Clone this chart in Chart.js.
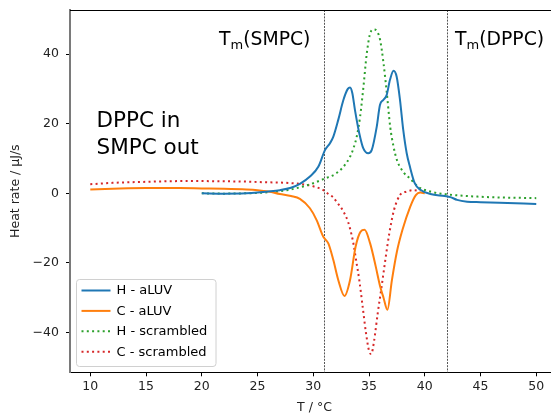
<!DOCTYPE html>
<html><head><meta charset="utf-8">
<style>
html,body{margin:0;padding:0;overflow:hidden;background:#fff;width:551px;height:413px}
#wrap{width:559px;height:413px}
</style>
<script src="https://cdn.jsdelivr.net/npm/chart.js@4.4.1/dist/chart.umd.min.js"></script>
</head><body><div id="wrap"><canvas id="c" width="559" height="413"></canvas></div>
<script>
// ---- data ----
const hAluvT = [20,22,24,25,26,27,28,28.8,29.7,30.45,31.05,31.5,31.8,32.24,32.7,33.1,33.3,33.5,33.74,34.13,34.49,34.93,35.24,35.69,35.98,36.28,36.58,36.88,37.2,37.48,37.78,38.07,38.38,38.67,39.1,39.6,40.5,41.8,42.3,42.9,43.8,45,46.7,50];
const hAluvY = [0,-0.1,0,0.2,0.5,0.9,1.6,2.7,4.8,7.6,12.4,14.4,16.3,21.1,26.8,30.0,30.4,28.8,23.9,17.2,12.9,11.5,12.4,19.1,25.4,26.8,28.2,32.6,35.2,33.5,26.8,18.2,11.5,7.6,2.9,1,-0.2,-0.8,-1.1,-1.9,-2.4,-2.55,-2.7,-3.1];

const cAluvT = [10,12,15,18,20,22,24,25,26,27,28,28.8,29.7,30.3,30.9,31.35,31.8,32.24,32.8,33.3,33.8,34.25,34.6,35.1,35.6,36.0,36.3,36.65,37.05,37.5,38,38.7,39.2,39.6,40];
const cAluvY = [1.1,1.3,1.5,1.5,1.4,1.3,1.1,0.9,0.5,-0.2,-0.8,-1.6,-4.3,-7.7,-12.5,-14.4,-19.2,-24.9,-29.5,-24.9,-15.3,-11,-10.5,-14.4,-21,-26.8,-30,-33.5,-25,-16.8,-10.5,-3.8,-0.5,0.2,0];

const hScrT = [20,22,24,25,26,27,28,29,30,31,32,32.7,33.3,33.6,33.9,34.2,34.5,34.8,35.15,35.45,35.75,36.0,36.3,36.6,36.9,37.2,37.5,38.1,38.7,39.4,40.5,42,45,50];
const hScrY = [0,-0.1,0,0.1,0.3,0.6,1.1,1.9,2.9,4.2,5.6,7.6,10.5,12.9,16.3,22,30.6,40.2,46.4,47.1,46.4,44,37.4,28.7,19.1,13.4,9.6,6,4.2,1.9,0.5,-0.3,-1,-1.4];

const cScrT = [10,12,15,18,20,22,24,26,27,28,28.8,30,30.9,31.35,31.8,32.1,32.7,33.14,33.44,33.65,33.83,34.13,34.43,34.73,35.02,35.2,35.45,35.78,36.13,36.46,36.82,37.24,37.78,38.38,38.97,39.6];
const cScrY = [2.6,3.0,3.3,3.5,3.5,3.45,3.35,3.15,3.1,2.9,2.7,2.0,0.9,-0.2,-1.2,-2.5,-5.2,-8.4,-12,-15.3,-19,-25,-32.6,-40.2,-45.5,-46.2,-42.5,-34.5,-26.8,-19.2,-11.5,-4.8,-0.5,0.5,0.9,0.6];

const seriesLabels = ['H - aLUV','C - aLUV','H - scrambled','C - scrambled'];
const xTicks = [10,15,20,25,30,35,40,45,50];
const yTicks = [-40,-20,0,20,40];
const markerTemps = [31,42];
const markerNames = ['(SMPC)','(DPPC)'];
const sampleText = ['DPPC in','SMPC out'];

const pts = (xs, ys) => xs.map((x,i)=>({x, y: ys[i]}));
const FONT = "'DejaVu Sans', sans-serif";

const decor = {
  id:'decor',
  beforeDatasetsDraw(chart){
    const {ctx, chartArea:a, scales:{x}} = chart;
    ctx.save();
    ctx.strokeStyle = '#555';
    ctx.lineWidth = 1;
    ctx.setLineDash([2,1.2]);
    markerTemps.forEach(t=>{
      const px = Math.round(x.getPixelForValue(t)) + 0.5;
      ctx.beginPath(); ctx.moveTo(px, a.top); ctx.lineTo(px, a.bottom); ctx.stroke();
    });
    ctx.restore();
  },
  afterDraw(chart){
    const {ctx, chartArea:a, scales:{x}} = chart;
    ctx.save();
    // top spine
    ctx.strokeStyle = '#000'; ctx.lineWidth = 1;
    ctx.beginPath(); ctx.moveTo(a.left, Math.round(a.top)+0.5); ctx.lineTo(a.right, Math.round(a.top)+0.5); ctx.stroke();

    // Tm labels
    ctx.fillStyle = '#000';
    ctx.textBaseline = 'alphabetic';
    const big = 18.8, sub = 13;
    const drawTm = (startX, name) => {
      ctx.font = big + 'px ' + FONT; ctx.textAlign = 'left';
      ctx.fillText('T', startX, 45);
      let w = ctx.measureText('T').width;
      ctx.font = sub + 'px ' + FONT;
      ctx.fillText('m', startX + w, 48.5);
      w += ctx.measureText('m').width;
      ctx.font = big + 'px ' + FONT;
      ctx.fillText(name, startX + w, 45);
      return w + ctx.measureText(name).width;
    };
    ctx.font = big + 'px ' + FONT; let wT = ctx.measureText('T').width + ctx.measureText(markerNames[0]).width;
    ctx.font = sub + 'px ' + FONT; wT += ctx.measureText('m').width;
    const x0 = x.getPixelForValue(markerTemps[0]) - 14 - wT;
    drawTm(x0, markerNames[0]);
    drawTm(x.getPixelForValue(markerTemps[1]) + 8, markerNames[1]);

    // sample text
    ctx.font = '21.5px ' + FONT; ctx.textAlign = 'left';
    ctx.fillText(sampleText[0], 96.5, 127);
    ctx.fillText(sampleText[1], 96.5, 154);

    // legend
    const lx = 76.5, ly = 279.5, lw = 139.5, lh = 87;
    ctx.beginPath();
    ctx.roundRect(lx, ly, lw, lh, 3);
    ctx.fillStyle = 'rgba(255,255,255,0.8)'; ctx.fill();
    ctx.strokeStyle = '#d0d0d0'; ctx.lineWidth = 1; ctx.stroke();
    ctx.font = '13px ' + FONT; ctx.textBaseline = 'middle';
    chart.data.datasets.forEach((ds,i)=>{
      const cy = 290.5 + i*20.4;
      ctx.strokeStyle = ds.borderColor; ctx.lineWidth = ds.borderWidth;
      ctx.setLineDash(ds.borderDash || []);
      ctx.lineCap = 'butt';
      ctx.beginPath(); ctx.moveTo(81.5, cy); ctx.lineTo(110.5, cy); ctx.stroke();
      ctx.setLineDash([]);
      ctx.fillStyle = '#000';
      ctx.fillText(ds.label, 116.5, cy + 0.5);
    });
    ctx.restore();
  }
};

const mk = (label, xs, ys, color, dotted) => ({
  label, data: pts(xs, ys), borderColor: color, backgroundColor: color,
  borderWidth: 2, pointRadius: 0, fill: false,
  cubicInterpolationMode: 'monotone',
  borderDash: dotted ? [2, 3.3] : [], borderCapStyle: 'butt'
});

new Chart(document.getElementById('c'), {
  type: 'line',
  data: { datasets: [
    mk(seriesLabels[0], hAluvT, hAluvY, '#1f77b4', false),
    mk(seriesLabels[1], cAluvT, cAluvY, '#ff7f0e', false),
    mk(seriesLabels[2], hScrT, hScrY, '#2ca02c', true),
    mk(seriesLabels[3], cScrT, cScrY, '#d62728', true)
  ]},
  options: {
    responsive: false, animation: false, devicePixelRatio: 1,
    layout: { padding: { top: 10, right: 0, left: 0, bottom: 0 } },
    plugins: { legend: { display: false }, tooltip: { enabled: false } },
    scales: {
      x: {
        type: 'linear', min: 8.18, max: 52.04,
        afterFit(s){ s.height = 40.7; s.paddingLeft = 0; s.paddingRight = 0; },
        afterBuildTicks(s){ s.ticks = xTicks.map(v=>({value:v})); },
        grid: { drawOnChartArea: false, drawTicks: true, tickLength: 4, tickColor: '#000' },
        border: { color: '#000', width: 1 },
        ticks: { color: '#222', font: { family: FONT, size: 12.5 }, padding: 3, maxRotation: 0, autoSkip: false },
        title: { display: true, text: 'T / °C', color: '#222', font: { family: FONT, size: 12.5 }, padding: { top: 0, bottom: -2 } }
      },
      y: {
        type: 'linear', min: -51.44, max: 52.67,
        afterFit(s){ s.width = 70; s.paddingTop = 0; s.paddingBottom = 0; },
        afterBuildTicks(s){ s.ticks = yTicks.map(v=>({value:v})); },
        grid: { drawOnChartArea: false, drawTicks: true, tickLength: 4, tickColor: '#000' },
        border: { color: '#7a7a7a', width: 2 },
        ticks: { color: '#222', font: { family: FONT, size: 12.5 }, padding: 7, autoSkip: false,
                 callback: v => String(v).replace('-', '\u2212') },
        title: { display: true, text: 'Heat rate / μJ/s', color: '#222', font: { family: FONT, size: 12.5 }, padding: { top: 8.5, bottom: 0 } }
      }
    }
  },
  plugins: [decor]
});
</script>
</body></html>
